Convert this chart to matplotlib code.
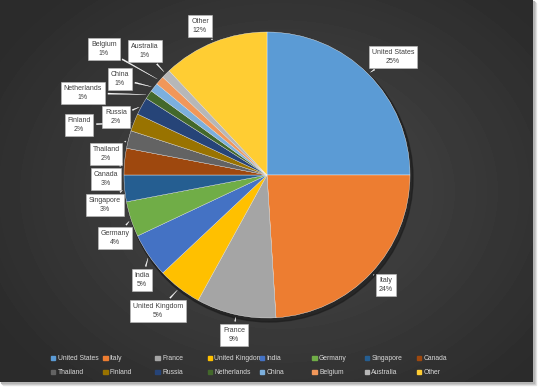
import numpy as np
import matplotlib.pyplot as plt
from matplotlib.patches import Rectangle, Circle

countries = ['United States', 'Italy', 'France', 'United Kingdom', 'India', 'Germany',
             'Singapore', 'Canada', 'Thailand', 'Finland', 'Russia', 'Netherlands',
             'China', 'Belgium', 'Australia', 'Other']
shares = [25, 24, 9, 5, 5, 4, 3, 3, 2, 2, 2, 1, 1, 1, 1, 12]
colors = ['#5B9BD5', '#ED7D31', '#A5A5A5', '#FFC000', '#4472C4', '#70AD47',
          '#255E91', '#9E480E', '#636363', '#997300', '#264478', '#43682B',
          '#7CAFDD', '#F1975A', '#B7B7B7', '#FFCD33']
# label box centres in pixels (from top left)
label_pos = [(393, 57), (386, 285), (234, 335), (158, 311), (142, 280), (115, 238),
             (105, 205), (106, 179), (106, 154), (79, 125), (116, 117), (83, 93),
             (120, 79), (104, 49), (145, 51), (200, 26)]

W, H = 538, 387
plt.rcParams['font.family'] = ['Liberation Sans', 'DejaVu Sans']

fig = plt.figure(figsize=(W / 100, H / 100), dpi=100, facecolor='white')
ax = fig.add_axes([0, 0, 1, 1])

# shadow + chart area
cw, ch = 533, 382
for i, c in enumerate(['#e6e6e6', '#cfcfcf', '#b5b5b5']):
    ax.add_patch(Rectangle((3 - i, H - ch - 3 + i), cw, ch, color=c, zorder=0))
yy, xx = np.mgrid[0:ch, 0:cw]
d = np.sqrt(((xx - 280) / 330.0) ** 2 + ((yy - 190) / 260.0) ** 2)
g = np.clip(0.29 - 0.12 * d, 0.17, 0.29)
ax.imshow(g, cmap='gray', vmin=0, vmax=1, extent=(0, cw, H, H - ch),
          zorder=1, interpolation='bilinear')

cx, cy, r = 267, H - 175, 143
ax.add_patch(Circle((cx + 2, cy - 3), r + 1, color='#1a1a1a', alpha=0.6, zorder=2))
wedges, _ = ax.pie(shares, colors=colors, startangle=90, counterclock=False,
                   center=(cx, cy), radius=r, frame=True,
                   wedgeprops=dict(edgecolor='#ffffff', linewidth=0.25, zorder=3))
ax.set_xlim(0, W)
ax.set_ylim(0, H)
ax.set_aspect('equal')
ax.axis('off')

for w, name, s, (lx, ly) in zip(wedges, countries, shares, label_pos):
    a = np.deg2rad((w.theta1 + w.theta2) / 2)
    px, py = cx + r * np.cos(a), cy + r * np.sin(a)
    ax.annotate(f'{name}\n{s}%', xy=(px, py), xytext=(lx, H - ly),
                ha='center', va='center', fontsize=5.0, color='#404040',
                linespacing=1.4, zorder=5,
                bbox=dict(boxstyle='square,pad=0.4', fc='white', ec='#bfbfbf', lw=0.4),
                arrowprops=dict(arrowstyle='wedge,tail_width=0.18,shrink_factor=0.5',
                                fc='white', ec='white', lw=0.2))

# legend, two rows of eight
for i, (name, c) in enumerate(zip(countries, colors)):
    x0 = 53 + 52.3 * (i % 8)
    y0 = H - (358 if i < 8 else 372)
    ax.add_patch(Rectangle((x0 - 2.2, y0 - 2.2), 4.4, 4.4, color=c, zorder=4))
    ax.text(x0 + 4.5, y0, name, fontsize=4.9, color='#d9d9d9', va='center', ha='left', zorder=4)

fig.savefig('out.png', dpi=100, facecolor='white')
